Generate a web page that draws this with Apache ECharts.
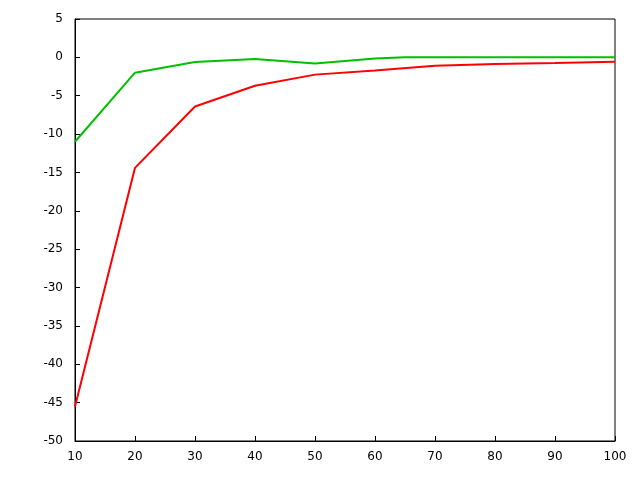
<!DOCTYPE html>
<html>
<head>
<meta charset="utf-8">
<script src="https://cdn.jsdelivr.net/npm/echarts@6/dist/echarts.min.js"></script>
<style>html,body{margin:0;padding:0;background:#fff;}#c{width:640px;height:480px;}</style>
</head>
<body>
<div id="c"></div>
<script>
var redX = [10, 20, 30, 40, 50, 60, 70, 80, 90, 100];
var redY = [-45.5, -14.4, -6.4, -3.7, -2.25, -1.7, -1.1, -0.87, -0.74, -0.56];
var greenX = [10, 20, 30, 40, 50, 60, 65, 70, 80, 90, 100];
var greenY = [-11.0, -2.0, -0.6, -0.2, -0.8, -0.15, 0, 0, 0, 0, 0];

function pairs(xs, ys) { return xs.map(function (x, i) { return [x, ys[i]]; }); }

var chart = echarts.init(document.getElementById('c'), null, {renderer: 'canvas'});
var axisLabel = {color: '#000', fontSize: 12, fontFamily: 'DejaVu Sans'};
chart.setOption({
  animation: false,
  backgroundColor: '#fff',
  grid: {left: 75, right: 25, top: 19, bottom: 39, show: true, borderColor: '#000', borderWidth: 1, backgroundColor: 'transparent'},
  xAxis: {
    type: 'value', min: 10, max: 100, interval: 10,
    axisLine: {show: true, onZero: false, lineStyle: {color: '#000', width: 1}},
    axisTick: {show: true, inside: true, length: 5, lineStyle: {color: '#000'}},
    axisLabel: Object.assign({margin: 10}, axisLabel),
    splitLine: {show: false}
  },
  yAxis: {
    type: 'value', min: -50, max: 5, interval: 5,
    axisLine: {show: true, onZero: false, lineStyle: {color: '#000', width: 1}},
    axisTick: {show: true, inside: true, length: 5, lineStyle: {color: '#000'}},
    axisLabel: Object.assign({margin: 12}, axisLabel),
    splitLine: {show: false}
  },
  series: [
    {type: 'line', data: pairs(redX, redY), symbol: 'none', lineStyle: {color: '#ff0000', width: 2}, itemStyle: {color: '#ff0000'}},
    {type: 'line', data: pairs(greenX, greenY), symbol: 'none', lineStyle: {color: '#00c000', width: 2}, itemStyle: {color: '#00c000'}}
  ]
});
</script>
</body>
</html>
